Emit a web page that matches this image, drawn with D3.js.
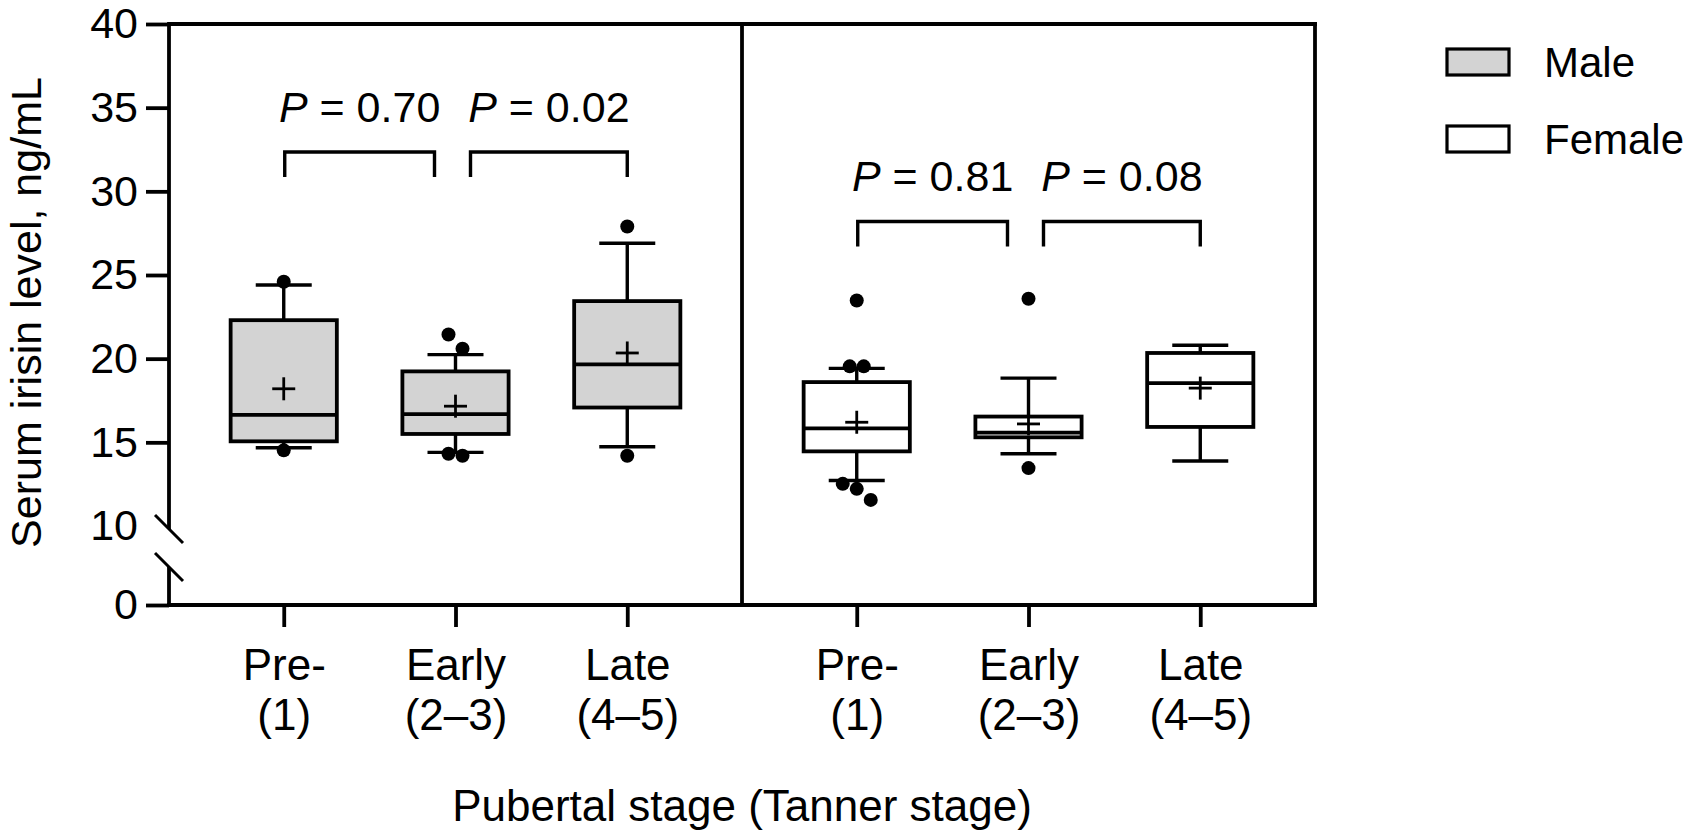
<!DOCTYPE html>
<html><head><meta charset="utf-8">
<script src="https://cdn.jsdelivr.net/npm/d3@7"></script>
<style>
body{margin:0;background:#fff}
svg{display:block}
text{font-family:"Liberation Sans",Arial,Helvetica,sans-serif;fill:#000}
</style>
</head><body>
<svg id="c" width="1690" height="838"></svg>
<script>
// ---------------- data ----------------
const stages = ["Pre-", "Early", "Late"];
const stageCodes = ["(1)", "(2–3)", "(4–5)"];
const sexes = ["Male", "Female"];
const yTicksUpper = [10, 15, 20, 25, 30, 35, 40];
const yTicksLower = [0];

const maleWhiskerLow  = [14.68, 14.40, 14.74];
const maleQ1          = [15.06, 15.50, 17.08];
const maleMedian      = [16.64, 16.68, 19.66];
const maleQ3          = [22.30, 19.24, 23.44];
const maleWhiskerHigh = [24.40, 20.24, 26.90];
const maleMean        = [18.20, 17.16, 20.34];
const maleOutliers    = [[24.60, 14.52], [21.44, 20.60, 14.32, 14.20], [27.90, 14.20]];

const femaleWhiskerLow  = [12.72, 14.32, 13.88];
const femaleQ1          = [14.46, 15.30, 15.92];
const femaleMedian      = [15.84, 15.58, 18.54];
const femaleQ3          = [18.60, 16.54, 20.34];
const femaleWhiskerHigh = [19.42, 18.84, 20.80];
const femaleMean        = [16.20, 16.10, 18.24];
const femaleOutliers    = [[23.48, 19.54, 19.54, 12.52, 12.22, 11.56], [23.58, 13.46], []];

const pValues = [["0.70", "0.02"], ["0.81", "0.08"]];
const bracketLevel = [32.35, 28.2];

const yTitle = "Serum irisin level, ng/mL";
const xTitle = "Pubertal stage (Tanner stage)";

// ---------------- layout ----------------
const svg = d3.select("#c");
const AX = 169, MID = 742, RIGHT = 1315;
const Y40 = 24, Y10 = 526, YZERO = 605, YLOWTOP = 567;
const pxPerUnit = (Y10 - Y40) / 30;
const yUp = d3.scaleLinear().domain([10, 40]).range([Y10, Y40]);
const yLow = d3.scaleLinear().domain([0, (YZERO - YLOWTOP) / pxPerUnit]).range([YZERO, YLOWTOP]);
const panels = [[AX, MID], [MID, RIGHT]];
const xs = panels.map(r => d3.scalePoint().domain(stages).range(r).padding(0.668));

const fills = { Male: "#d3d3d3", Female: "#ffffff" };
const LW = 3.8;
const WL = 3.4;
const BOXW = 110, CAPW = 56, PLUS = 23, R = 7;

const groups = [
  { sex: "Male", lo: maleWhiskerLow, q1: maleQ1, med: maleMedian, q3: maleQ3, hi: maleWhiskerHigh, mean: maleMean, out: maleOutliers },
  { sex: "Female", lo: femaleWhiskerLow, q1: femaleQ1, med: femaleMedian, q3: femaleQ3, hi: femaleWhiskerHigh, mean: femaleMean, out: femaleOutliers }
];

// ---------------- frame ----------------
const frame = svg.append("g").attr("stroke", "#000").attr("stroke-width", LW).attr("fill", "none").attr("stroke-linecap", "square");
frame.append("line").attr("x1", AX).attr("x2", RIGHT).attr("y1", yUp(40)).attr("y2", yUp(40));
frame.append("line").attr("x1", RIGHT).attr("x2", RIGHT).attr("y1", yUp(40)).attr("y2", yLow(0));
frame.append("line").attr("x1", MID).attr("x2", MID).attr("y1", yUp(40)).attr("y2", yLow(0));
frame.append("line").attr("x1", AX).attr("x2", RIGHT).attr("y1", yLow(0)).attr("y2", yLow(0));
// y axis segments
frame.append("line").attr("x1", AX).attr("x2", AX).attr("y1", yUp(40)).attr("y2", yUp(10) + 3).attr("stroke-linecap", "butt");
frame.append("line").attr("x1", AX).attr("x2", AX).attr("y1", yLow.range()[1]).attr("y2", yLow(0)).attr("stroke-linecap", "butt");
// break marks
[yUp(10) + 3, yLow.range()[1]].forEach(cy => {
  frame.append("line").attr("x1", AX - 14).attr("x2", AX + 14).attr("y1", cy - 14).attr("y2", cy + 14)
    .attr("stroke-width", 3).attr("stroke-linecap", "butt");
});

// ---------------- y axes ----------------
function styleAxis(g, size) {
  g.attr("font-family", null);
  g.select(".domain").remove();
  g.selectAll(".tick line").attr("stroke", "#000").attr("stroke-width", LW);
  g.selectAll(".tick text").attr("font-size", size).attr("fill", "#000");
}
const gyUp = svg.append("g").attr("transform", `translate(${AX},0)`)
  .call(d3.axisLeft(yUp).tickValues(yTicksUpper).tickFormat(d3.format("d")).tickSize(23).tickPadding(8))
  .call(styleAxis, 43);
gyUp.selectAll(".tick").filter(d => d === 10).select("line").remove();
svg.append("g").attr("transform", `translate(${AX},0)`)
  .call(d3.axisLeft(yLow).tickValues(yTicksLower).tickFormat(d3.format("d")).tickSize(23).tickPadding(8))
  .call(styleAxis, 43);

// ---------------- x axes ----------------
xs.forEach(x => {
  const g = svg.append("g").attr("transform", `translate(0,${YZERO})`)
    .call(d3.axisBottom(x).tickSize(22))
    .call(styleAxis, 44);
  g.selectAll(".tick text").each(function (d) {
    const t = d3.select(this).attr("y", null).attr("dy", null).text(null);
    t.append("tspan").attr("x", 0).attr("y", 75).text(d);
    t.append("tspan").attr("x", 0).attr("y", 125).text(stageCodes[stages.indexOf(d)]);
  });
});

// ---------------- boxes ----------------
function spread(vals) {
  const pts = vals.map(v => ({ v })).sort((a, b) => b.v - a.v);
  const clusters = [];
  pts.forEach(p => {
    const last = clusters[clusters.length - 1];
    if (last && Math.abs(yUp(last[last.length - 1].v) - yUp(p.v)) < 15) last.push(p);
    else clusters.push([p]);
  });
  clusters.forEach(c => c.forEach((p, i) => p.dx = (i - (c.length - 1) / 2) * 14));
  return pts;
}

groups.forEach((grp, gi) => {
  const x = xs[gi];
  stages.forEach((s, i) => {
    const cx = x(s);
    const g = svg.append("g").attr("stroke", "#000").attr("fill", "none");
    // whiskers
    g.append("line").attr("x1", cx).attr("x2", cx).attr("y1", yUp(grp.q3[i])).attr("y2", yUp(grp.hi[i])).attr("stroke-width", WL);
    g.append("line").attr("x1", cx).attr("x2", cx).attr("y1", yUp(grp.q1[i])).attr("y2", yUp(grp.lo[i])).attr("stroke-width", WL);
    g.append("line").attr("x1", cx - CAPW / 2).attr("x2", cx + CAPW / 2).attr("y1", yUp(grp.hi[i])).attr("y2", yUp(grp.hi[i])).attr("stroke-width", WL);
    g.append("line").attr("x1", cx - CAPW / 2).attr("x2", cx + CAPW / 2).attr("y1", yUp(grp.lo[i])).attr("y2", yUp(grp.lo[i])).attr("stroke-width", WL);
    // box
    g.append("rect").attr("x", cx - BOXW / 2 + LW / 2).attr("width", BOXW - LW)
      .attr("y", yUp(grp.q3[i])).attr("height", yUp(grp.q1[i]) - yUp(grp.q3[i]))
      .attr("fill", fills[grp.sex]).attr("stroke-width", LW);
    // median
    g.append("line").attr("x1", cx - BOXW / 2 + LW / 2).attr("x2", cx + BOXW / 2 - LW / 2)
      .attr("y1", yUp(grp.med[i])).attr("y2", yUp(grp.med[i])).attr("stroke-width", LW);
    // mean +
    const my = yUp(grp.mean[i]);
    g.append("line").attr("x1", cx - PLUS / 2).attr("x2", cx + PLUS / 2).attr("y1", my).attr("y2", my).attr("stroke-width", 2.8);
    g.append("line").attr("x1", cx).attr("x2", cx).attr("y1", my - PLUS / 2).attr("y2", my + PLUS / 2).attr("stroke-width", 2.8);
    // outliers
    svg.append("g").selectAll("circle").data(spread(grp.out[i])).join("circle")
      .attr("cx", d => cx + d.dx).attr("cy", d => yUp(d.v)).attr("r", R).attr("fill", "#000");
  });
});

// ---------------- P-value brackets ----------------
xs.forEach((x, pi) => {
  const yb = yUp(bracketLevel[pi]);
  const yd = yUp(bracketLevel[pi] - 1.5);
  [[0, 1], [1, 2]].forEach(([a, b], k) => {
    const x1 = x(stages[a]) + (k === 0 ? 1 : 15);
    const x2 = x(stages[b]) - (k === 0 ? 21 : 0);
    svg.append("path").attr("d", `M${x1},${yd}V${yb}H${x2}V${yd}`)
      .attr("fill", "none").attr("stroke", "#000").attr("stroke-width", WL);
    const t = svg.append("text").attr("x", (x1 + x2) / 2).attr("y", yb - 30)
      .attr("text-anchor", "middle").attr("font-size", 43);
    t.append("tspan").attr("font-style", "italic").text("P");
    t.append("tspan").text(" = " + pValues[pi][k]);
  });
});

// ---------------- legend ----------------
sexes.forEach((s, i) => {
  const y0 = 49 + i * 77;
  svg.append("rect").attr("x", 1447).attr("y", y0).attr("width", 62).attr("height", 26)
    .attr("fill", fills[s]).attr("stroke", "#000").attr("stroke-width", 3.2);
  svg.append("text").attr("x", 1544).attr("y", y0 + 28).attr("font-size", 42).text(s);
});

// ---------------- titles ----------------
svg.append("text").attr("transform", `translate(41,${(Y40 + YZERO) / 2 - 2}) rotate(-90)`)
  .attr("text-anchor", "middle").attr("font-size", 43).text(yTitle);
svg.append("text").attr("x", (AX + RIGHT) / 2).attr("y", 821)
  .attr("text-anchor", "middle").attr("font-size", 44).text(xTitle);
</script>
</body></html>
